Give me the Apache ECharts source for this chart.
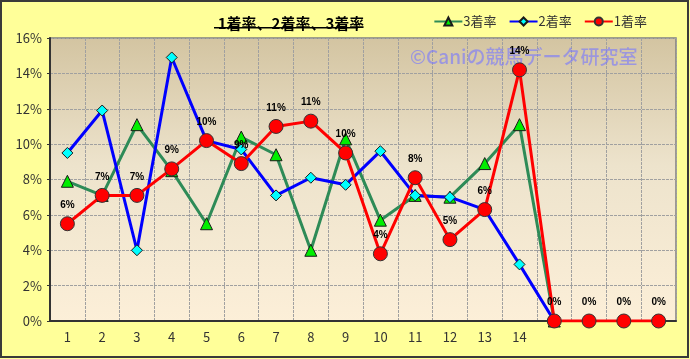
<!DOCTYPE html>
<html>
<head>
<meta charset="utf-8">
<script src="https://cdn.jsdelivr.net/npm/echarts@6/dist/echarts.min.js"></script>
<style>
html,body{margin:0;padding:0;background:#FFFF99;}
#c{width:690px;height:359px;}
</style>
</head>
<body>
<div id="c"></div>
<script>
const categories = ['1','2','3','4','5','6','7','8','9','10','11','12','13','14','','','',''];
const yTicks = [0,2,4,6,8,10,12,14,16];
const rate3 = [7.9,7.1,11.1,8.5,5.5,10.4,9.4,4.0,10.3,5.7,7.1,7.0,8.9,11.1,0];
const rate2 = [9.5,11.9,4.0,14.9,10.2,9.7,7.1,8.1,7.7,9.6,7.1,7.0,6.3,3.2,0];
const rate1 = [5.5,7.1,7.1,8.6,10.2,8.9,11.0,11.3,9.5,3.8,8.1,4.6,6.3,14.2,0,0,0,0];
const seriesNames = ['3着率','2着率','1着率'];
const titleText = '1着率、2着率、3着率';
const watermark = '©Caniの競馬データ研究室';

const font = '"Noto Sans CJK JP", "Noto Sans", sans-serif';
const chart = echarts.init(document.getElementById('c'), null, {renderer:'canvas'});
chart.setOption({
  backgroundColor: '#FFFF99',
  animation: false,
  title: {
    text: titleText,
    left: 286, top: 11, textAlign: 'center',
    textStyle: {fontFamily: font, fontSize: 15, fontWeight: 'bold', color: '#000'}
  },
  legend: {
    data: seriesNames,
    right: 38, top: 10,
    itemWidth: 28, itemHeight: 10, itemGap: 12,
    textStyle: {fontFamily: font, fontSize: 13, color: '#333', padding:[0,0,0,-4]}
  },
  graphic: [
    {type:'rect', shape:{x:1,y:1,width:687,height:356}, style:{fill:'none', stroke:'#3a3a3a', lineWidth:2}, silent:true, z:100},
    {type:'rect', shape:{x:214,y:27,width:144,height:1.5}, style:{fill:'#000'}, silent:true},
    {type:'text', left: 410, top: 47, z: 1, silent:true,
      style:{text: watermark, font: '500 19px ' + font, fill:'rgba(120,120,255,0.62)'}}
  ],
  grid: {
    left: 50, right: 14, top: 38, bottom: 38,
    show: true, borderColor: '#808080', borderWidth: 1.5,
    backgroundColor: new echarts.graphic.LinearGradient(0,0,0,1,[
      {offset:0, color:'#D3C4A1'},
      {offset:0.45, color:'#EDE3CC'},
      {offset:1, color:'#FCEFD8'}
    ])
  },
  xAxis: {
    type: 'category',
    data: categories,
    boundaryGap: true,
    axisLine: {lineStyle:{color:'#333', width:2}},
    axisTick: {show:false},
    axisLabel: {fontFamily: font, fontSize: 13, color:'#333', margin: 10, interval: 0},
    splitLine: {show:true, interval:0, lineStyle:{color:'#a0a0a0', type:[3,1], width:1}}
  },
  yAxis: {
    type: 'value',
    min: 0, max: 16, interval: 2,
    axisLine: {show:true, lineStyle:{color:'#333', width:2}},
    axisTick: {show:true, length:3, lineStyle:{color:'#333'}},
    axisLabel: {fontFamily: font, fontSize: 13, color:'#333', margin: 8,
      formatter: v => yTicks.includes(v) ? v + '%' : ''},
    splitLine: {show:true, lineStyle:{color:'#a0a0a0', type:[3,1], width:1}}
  },
  series: [
    {
      name: seriesNames[0], type: 'line', data: rate3,
      symbol: 'triangle', symbolSize: 12,
      lineStyle: {color:'#2E8B57', width:3},
      itemStyle: {color:'#00EE00', borderColor:'#1a1a1a', borderWidth:1},
      z: 2
    },
    {
      name: seriesNames[1], type: 'line', data: rate2,
      symbol: 'diamond', symbolSize: 11,
      lineStyle: {color:'#0000FF', width:3},
      itemStyle: {color:'#00FFFF', borderColor:'#1a1a1a', borderWidth:1},
      z: 3
    },
    {
      name: seriesNames[2], type: 'line', data: rate1,
      symbol: 'circle', symbolSize: 14,
      lineStyle: {color:'#FF0000', width:3},
      itemStyle: {color:'#FF0000', borderColor:'#333', borderWidth:1},
      label: {show:true, position:'top', distance: 6, fontFamily: 'Liberation Sans, Arial, sans-serif',
        fontSize: 10, fontWeight:'bold', color:'#000',
        formatter: p => Math.round(p.value) + '%'},
      z: 4
    }
  ]
});
</script>
</body>
</html>
